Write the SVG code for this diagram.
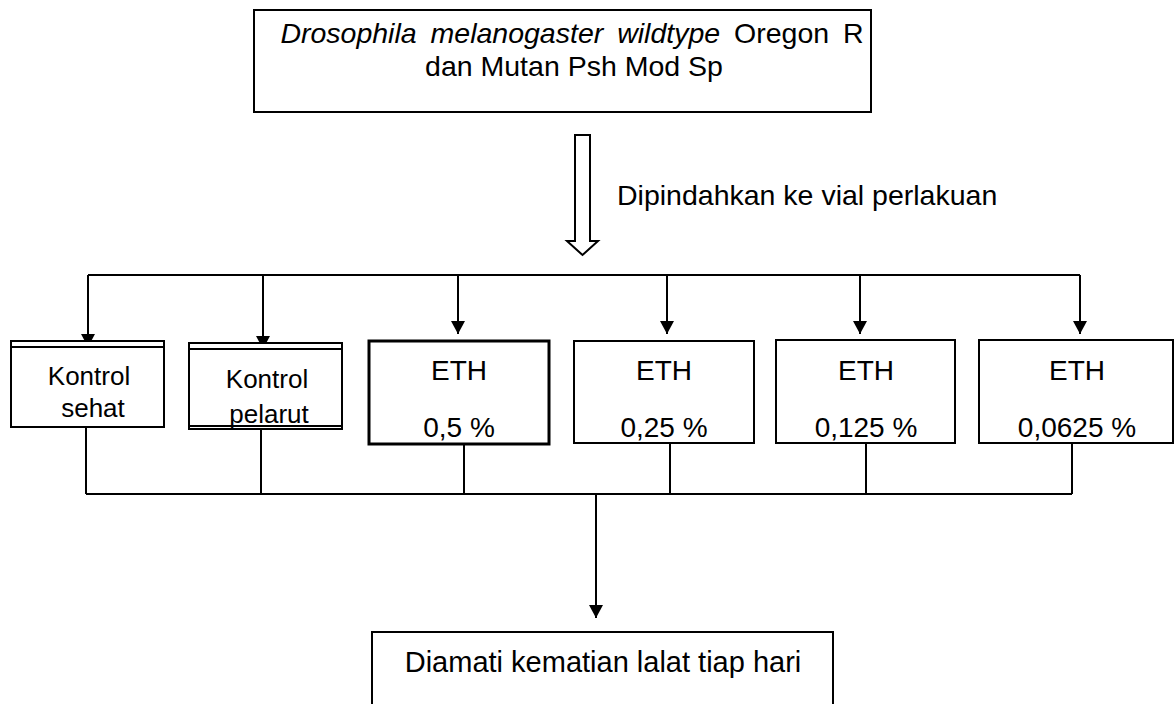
<svg xmlns="http://www.w3.org/2000/svg" width="1176" height="704" viewBox="0 0 1176 704">
<style>
.box{fill:#fff;stroke:#000;stroke-width:2}
.thick{stroke-width:3}
.ln{fill:none;stroke:#000;stroke-width:2}
text{font-family:"Liberation Sans",Arial,sans-serif;fill:#000}
.t26{font-size:26px;text-anchor:middle}
.t28{font-size:28px;text-anchor:middle}
</style>
<defs>
<marker id="ah" markerUnits="userSpaceOnUse" markerWidth="14" markerHeight="14" refX="13" refY="7" orient="auto">
<path d="M0,0 L13,7 L0,14 Z" fill="#000"/>
</marker>
</defs>
<rect width="1176" height="704" fill="#fff"/>

<g id="node-source">
<rect class="box" x="254" y="10" width="617" height="102"/>
<text x="572" y="43" font-size="28.5" text-anchor="middle" word-spacing="6"><tspan font-style="italic">Drosophila melanogaster wildtype</tspan> Oregon R</text>
<text x="574" y="76" font-size="28.5" text-anchor="middle">dan Mutan Psh Mod Sp</text>
</g>

<g id="transfer">
<polygon points="575,135 590,135 590,241 598,241 582.5,255 567,241 575,241" fill="#fff" stroke="#000" stroke-width="2"/>
<text x="617" y="205" font-size="28.5">Dipindahkan ke vial perlakuan</text>
</g>

<g id="connectors">
<path class="ln" d="M88,275 H1080"/>
<path class="ln" d="M88,275 V347" marker-end="url(#ah)"/>
<path class="ln" d="M263,275 V349" marker-end="url(#ah)"/>
<path class="ln" d="M458,275 V334" marker-end="url(#ah)"/>
<path class="ln" d="M667,275 V334" marker-end="url(#ah)"/>
<path class="ln" d="M860,275 V334" marker-end="url(#ah)"/>
<path class="ln" d="M1080,275 V334" marker-end="url(#ah)"/>
<path class="ln" d="M86,427 V494 M261,429 V494 M464,444 V494 M670,443 V494 M866,443 V494 M1072,443 V494"/>
<path class="ln" d="M86,494 H1072"/>
<path class="ln" d="M596,494 V618" marker-end="url(#ah)"/>
</g>

<g id="node-kontrol-sehat">
<rect class="box" x="11" y="341" width="153" height="86"/>
<path class="ln" d="M11,347 H164"/>
<text class="t26" x="89" y="385">Kontrol</text>
<text class="t26" x="93" y="417">sehat</text>
</g>

<g id="node-kontrol-pelarut">
<rect class="box" x="189" y="343" width="153" height="86"/>
<path class="ln" d="M189,349 H342 M189,426 H342"/>
<text class="t26" x="267" y="388">Kontrol</text>
<text class="t26" x="269" y="423">pelarut</text>
</g>

<g id="node-eth-05">
<rect class="box thick" x="369" y="341" width="180" height="103"/>
<text class="t28" x="459" y="380">ETH</text>
<text class="t28" x="459" y="437">0,5 %</text>
</g>

<g id="node-eth-025">
<rect class="box" x="574" y="341" width="180" height="102"/>
<text class="t28" x="664" y="380">ETH</text>
<text class="t28" x="664" y="437">0,25 %</text>
</g>

<g id="node-eth-0125">
<rect class="box" x="776" y="340" width="179" height="103"/>
<text class="t28" x="866" y="380">ETH</text>
<text class="t28" x="866" y="437">0,125 %</text>
</g>

<g id="node-eth-00625">
<rect class="box" x="979" y="340" width="194" height="103"/>
<text class="t28" x="1077" y="380">ETH</text>
<text class="t28" x="1077" y="437">0,0625 %</text>
</g>

<g id="node-result">
<rect class="box" x="372" y="632" width="461" height="90"/>
<text x="603" y="672" font-size="29" text-anchor="middle">Diamati kematian lalat tiap hari</text>
</g>
</svg>
